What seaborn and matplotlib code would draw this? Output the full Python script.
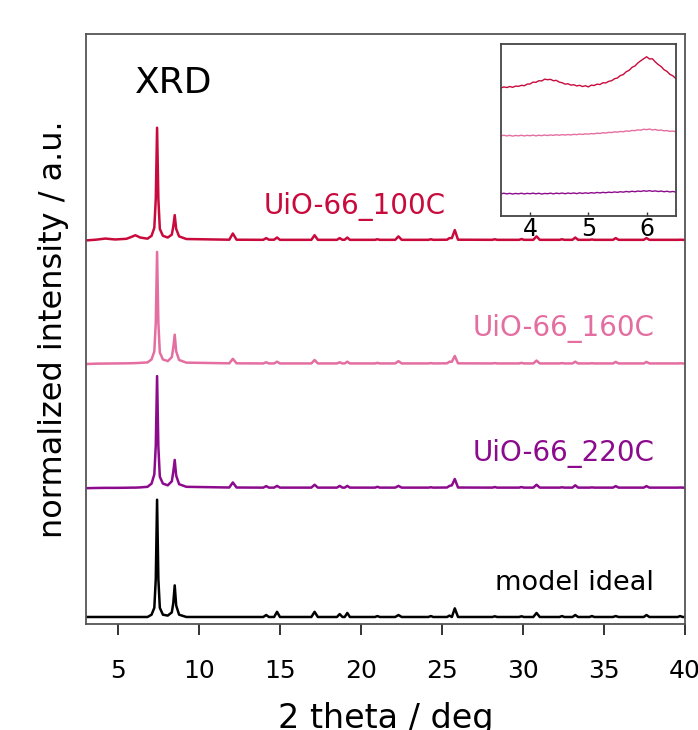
import numpy as np
import pandas as pd
import matplotlib
matplotlib.use("Agg")
import matplotlib.pyplot as plt
import seaborn as sns

# ---------------- data ----------------
samples = ["UiO-66_100C", "UiO-66_160C", "UiO-66_220C", "model ideal"]
colors = ["#C80A3C", "#E46EA0", "#8C0A8C", "#000000"]

theta = [
    3.0, 3.6, 4.2, 4.8, 5.5, 5.8, 6.05, 6.35, 6.8,
    7.05, 7.22, 7.31, 7.39, 7.47, 7.56, 7.75,
    8.05, 8.3, 8.39, 8.48, 8.57, 8.75, 9.2,
    11.85, 12.07, 12.3,
    13.95, 14.13, 14.3, 14.62, 14.8, 14.98,
    16.92, 17.12, 17.32,
    18.5, 18.67, 18.84, 18.98, 19.14, 19.3,
    20.85, 21.0, 21.15, 22.1, 22.3, 22.5,
    24.15, 24.3, 24.45, 25.3, 25.45, 25.6, 25.78, 25.98,
    28.1, 28.25, 28.4, 29.75, 29.9, 30.05, 30.63, 30.83, 31.03,
    32.25, 32.4, 32.55, 33.05, 33.22, 33.4, 34.1, 34.25, 34.4,
    35.55, 35.72, 35.9, 37.45, 37.62, 37.8, 39.55, 39.7, 39.85, 40.0,
]

# normalized intensities (relative to each pattern's baseline)
int_100C = [
    0.0, 0.006, 0.016, 0.008, 0.014, 0.03, 0.045, 0.025, 0.015,
    0.04, 0.11, 0.36, 0.98, 0.36, 0.10, 0.04,
    0.025, 0.05, 0.12, 0.22, 0.10, 0.035, 0.012,
    0.006, 0.06, 0.006,
    0.005, 0.02, 0.006, 0.006, 0.025, 0.005,
    0.005, 0.045, 0.005,
    0.005, 0.02, 0.005, 0.006, 0.025, 0.005,
    0.005, 0.01, 0.005, 0.005, 0.035, 0.005,
    0.005, 0.01, 0.005, 0.006, 0.02, 0.02, 0.09, 0.006,
    0.005, 0.01, 0.005, 0.005, 0.012, 0.005, 0.005, 0.035, 0.005,
    0.005, 0.01, 0.005, 0.005, 0.025, 0.005, 0.005, 0.008, 0.005,
    0.005, 0.02, 0.005, 0.005, 0.02, 0.005, 0.005, 0.006, 0.005, 0.004,
]
int_160C = [
    0.0, 0.003, 0.004, 0.005, 0.006, 0.007, 0.008, 0.01, 0.014,
    0.04, 0.11, 0.36, 0.975, 0.36, 0.10, 0.04,
    0.025, 0.06, 0.14, 0.255, 0.11, 0.035, 0.012,
    0.006, 0.045, 0.006,
    0.005, 0.015, 0.005, 0.005, 0.02, 0.005,
    0.005, 0.035, 0.005,
    0.005, 0.015, 0.005, 0.005, 0.02, 0.005,
    0.005, 0.01, 0.005, 0.005, 0.025, 0.005,
    0.005, 0.008, 0.005, 0.006, 0.02, 0.02, 0.07, 0.006,
    0.005, 0.008, 0.005, 0.005, 0.01, 0.005, 0.005, 0.03, 0.005,
    0.005, 0.008, 0.005, 0.005, 0.02, 0.005, 0.005, 0.007, 0.005,
    0.005, 0.018, 0.005, 0.005, 0.018, 0.005, 0.005, 0.006, 0.005, 0.004,
]
int_220C = [
    0.0, 0.002, 0.003, 0.003, 0.004, 0.005, 0.005, 0.007, 0.012,
    0.04, 0.12, 0.37, 0.975, 0.36, 0.10, 0.04,
    0.025, 0.06, 0.14, 0.246, 0.11, 0.035, 0.012,
    0.006, 0.05, 0.006,
    0.005, 0.018, 0.005, 0.005, 0.02, 0.005,
    0.005, 0.03, 0.005,
    0.005, 0.02, 0.005, 0.005, 0.02, 0.005,
    0.005, 0.012, 0.005, 0.005, 0.02, 0.005,
    0.005, 0.008, 0.005, 0.006, 0.02, 0.025, 0.08, 0.006,
    0.005, 0.01, 0.005, 0.005, 0.01, 0.005, 0.005, 0.03, 0.005,
    0.005, 0.008, 0.005, 0.005, 0.025, 0.005, 0.005, 0.007, 0.005,
    0.005, 0.018, 0.005, 0.005, 0.018, 0.005, 0.005, 0.006, 0.005, 0.004,
]
int_model = [
    0.0, 0.0, 0.0, 0.0, 0.0, 0.0, 0.0, 0.0, 0.0,
    0.02, 0.08, 0.33, 1.02, 0.33, 0.08, 0.02,
    0.012, 0.04, 0.12, 0.275, 0.10, 0.02, 0.0,
    0.0, 0.0, 0.0,
    0.0, 0.017, 0.0, 0.0, 0.045, 0.0,
    0.0, 0.045, 0.0,
    0.0, 0.025, 0.0, 0.0, 0.035, 0.0,
    0.0, 0.008, 0.0, 0.0, 0.017, 0.0,
    0.0, 0.008, 0.0, 0.0, 0.012, 0.0, 0.075, 0.0,
    0.0, 0.006, 0.0, 0.0, 0.006, 0.0, 0.0, 0.035, 0.0,
    0.0, 0.008, 0.0, 0.0, 0.017, 0.0, 0.0, 0.008, 0.0,
    0.0, 0.008, 0.0, 0.0, 0.017, 0.0, 0.0, 0.008, 0.0, 0.0,
]

# inset: low-angle region (3.5 - 6.5 deg), arbitrary units
inset_theta = [
    3.50, 3.55, 3.60, 3.65, 3.70, 3.75, 3.80, 3.85, 3.90, 3.95,
    4.00, 4.05, 4.10, 4.15, 4.20, 4.25, 4.30, 4.35, 4.40, 4.45,
    4.50, 4.55, 4.60, 4.65, 4.70, 4.75, 4.80, 4.85, 4.90, 4.95,
    5.00, 5.05, 5.10, 5.15, 5.20, 5.25, 5.30, 5.35, 5.40, 5.45,
    5.50, 5.55, 5.60, 5.65, 5.70, 5.75, 5.80, 5.85, 5.90, 5.95,
    6.00, 6.05, 6.10, 6.15, 6.20, 6.25, 6.30, 6.35, 6.40, 6.45,
    6.50,
]
inset_100C = [
    1.280, 1.290, 1.284, 1.294, 1.286, 1.298, 1.296, 1.306, 1.302, 1.318,
    1.320, 1.338, 1.336, 1.352, 1.350, 1.368, 1.362, 1.366, 1.352, 1.356,
    1.338, 1.332, 1.318, 1.322, 1.308, 1.312, 1.300, 1.306, 1.294, 1.302,
    1.290, 1.308, 1.304, 1.318, 1.314, 1.332, 1.330, 1.346, 1.352, 1.372,
    1.380, 1.404, 1.414, 1.442, 1.456, 1.486, 1.500, 1.530, 1.552, 1.572,
    1.592, 1.570, 1.572, 1.540, 1.514, 1.494, 1.462, 1.446, 1.416, 1.402,
    1.374,
]
inset_160C = [
    0.800, 0.806, 0.799, 0.805, 0.797, 0.804, 0.800, 0.806, 0.799, 0.805,
    0.801, 0.807, 0.800, 0.806, 0.802, 0.808, 0.803, 0.809, 0.805, 0.811,
    0.806, 0.812, 0.808, 0.813, 0.809, 0.815, 0.812, 0.818, 0.814, 0.820,
    0.817, 0.823, 0.820, 0.827, 0.824, 0.831, 0.828, 0.835, 0.833, 0.840,
    0.837, 0.844, 0.841, 0.849, 0.846, 0.854, 0.852, 0.860, 0.857, 0.866,
    0.862, 0.868, 0.859, 0.864, 0.855, 0.858, 0.850, 0.853, 0.845, 0.848,
    0.842,
]
inset_220C = [
    0.220, 0.225, 0.218, 0.224, 0.217, 0.223, 0.219, 0.225, 0.218, 0.224,
    0.220, 0.226, 0.219, 0.225, 0.217, 0.223, 0.220, 0.226, 0.219, 0.226,
    0.221, 0.227, 0.220, 0.227, 0.222, 0.228, 0.221, 0.229, 0.223, 0.229,
    0.224, 0.231, 0.226, 0.233, 0.228, 0.234, 0.230, 0.236, 0.232, 0.238,
    0.234, 0.240, 0.236, 0.243, 0.238, 0.245, 0.240, 0.247, 0.243, 0.250,
    0.245, 0.251, 0.244, 0.249, 0.242, 0.247, 0.240, 0.245, 0.238, 0.243,
    0.237,
]

x_ticks = [5, 10, 15, 20, 25, 30, 35, 40]
inset_ticks = [4, 5, 6]

# ---------------- layout constants ----------------
offsets = [3.275, 2.2, 1.12, 0.0]          # vertical stacking of the patterns

# ---------------- build tidy frames ----------------
main_vals = [int_100C, int_160C, int_220C, int_model]
frames = []
for name, vals, off in zip(samples, main_vals, offsets):
    frames.append(pd.DataFrame({"theta": theta,
                                "y": np.asarray(vals) + off,
                                "sample": name}))
df = pd.concat(frames, ignore_index=True)

inset_vals = [inset_100C, inset_160C, inset_220C]
df_in = pd.concat([pd.DataFrame({"theta": inset_theta, "y": v, "sample": n})
                   for n, v in zip(samples[:3], inset_vals)], ignore_index=True)

# ---------------- plotting ----------------
sns.set_style("white")
plt.rcParams["font.family"] = ["DejaVu Sans"]
plt.rcParams["text.color"] = "black"
plt.rcParams["axes.labelcolor"] = "black"
plt.rcParams["xtick.color"] = "black"

fig = plt.figure(figsize=(6.98, 7.30), dpi=100)
ax = fig.add_axes([86 / 698, 1 - 624 / 730, 599 / 698, 590 / 730])

sns.lineplot(data=df, x="theta", y="y", hue="sample", hue_order=samples,
             palette=colors, estimator=None, sort=False, legend=False,
             linewidth=1.8, ax=ax)

ax.set_xlim(3, 40)
ax.set_ylim(-0.061, 5.07)
ax.set_yticks([])
ax.set_xticks(x_ticks)
ax.set_xticklabels([str(t) for t in x_ticks])
ax.tick_params(axis="x", direction="out", length=8, width=1.4, pad=17,
               labelsize=18, color="#333333", bottom=True)
for s in ax.spines.values():
    s.set_color("#555555")
    s.set_linewidth(1.3)
ax.set_xlabel("2 theta / deg", fontsize=24, labelpad=14)
ax.set_ylabel("normalized intensity / a.u.", fontsize=23, labelpad=12)

ax.text(0.082, 0.917, "XRD", transform=ax.transAxes, fontsize=26,
        ha="left", va="center")
ax.text(13.96, 3.574, samples[0], color=colors[0], fontsize=20,
        ha="left", va="center")
ax.text(38.1, 2.513, samples[1], color=colors[1], fontsize=20,
        ha="right", va="center")
ax.text(38.1, 1.426, samples[2], color=colors[2], fontsize=20,
        ha="right", va="center")
ax.text(38.1, 0.296, samples[3], color=colors[3], fontsize=19.5,
        ha="right", va="center")

# inset
axin = fig.add_axes([501 / 698, 1 - 215.7 / 730, 174.7 / 698, 171.7 / 730])
axin.set_facecolor("white")
sns.lineplot(data=df_in, x="theta", y="y", hue="sample", hue_order=samples[:3],
             palette=colors[:3], estimator=None, sort=False, legend=False,
             linewidth=1.0, ax=axin)
axin.set_xlim(3.5, 6.5)
axin.set_ylim(0, 1.72)
axin.set_yticks([])
axin.set_xticks(inset_ticks)
axin.set_xticklabels([str(t) for t in inset_ticks])
axin.tick_params(axis="x", direction="in", length=3, width=1.0, pad=1.0,
                 labelsize=17, color="#333333", bottom=True)
axin.set_xlabel("")
axin.set_ylabel("")
for s in axin.spines.values():
    s.set_color("#444444")
    s.set_linewidth(1.3)

fig.savefig("out.png", dpi=100)
